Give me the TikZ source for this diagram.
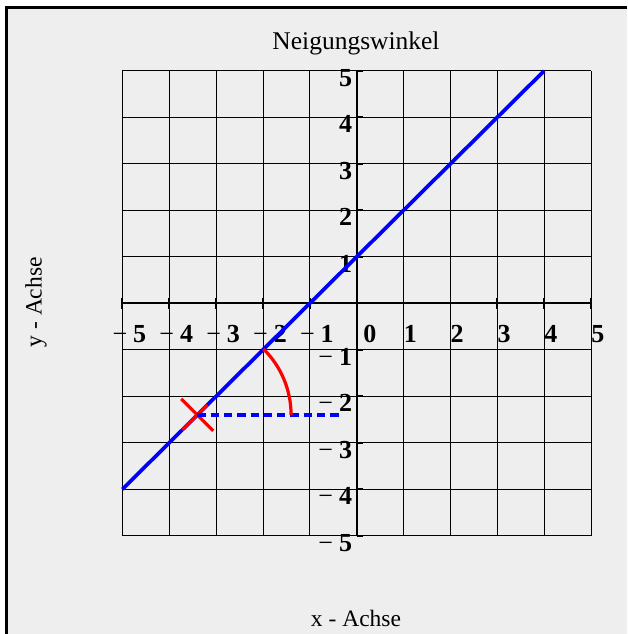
\documentclass[tikz,border=0pt]{standalone}
\usepackage{fontspec}
\setmainfont{Liberation Serif}
\definecolor{panelgray}{RGB}{238,238,238}
\newcommand{\negnum}[1]{{\mdseries\char"2212}\hspace{6pt}#1}
\begin{document}
\begin{tikzpicture}[x=1pt,y=1pt,
  gridline/.style={black, line width=0.9pt},
  axisline/.style={black, line width=2pt},
  tickmark/.style={black, line width=1.8pt},
  ticklab/.style={font=\fontsize{26}{26}\selectfont\bfseries, inner sep=0pt},
  titletext/.style={font=\fontsize{25.5}{26}\selectfont, inner sep=0pt},
  axistext/.style={font=\fontsize{23.5}{24}\selectfont, inner sep=0pt},
  plotline/.style={blue, line width=3.7pt},
  plotdash/.style={blue, line width=3.5pt, dash pattern=on 8.3pt off 5pt},
  anglearc/.style={red, line width=3.2pt},
  crossmark/.style={red, line width=3.2pt}]
\useasboundingbox (0,0) rectangle (627,634);
\fill[white] (0,0) rectangle (627,634);
\fill[panelgray] (6.5,0) rectangle (627,626);
\draw[line width=3pt, line join=miter] (6.5,0) -- (6.5,626) -- (627,626);

\node[titletext, anchor=base] (title) at (356,584.7) {Neigungswinkel};
\node[axistext, anchor=base] (xlab) at (356,7.3) {x - Achse};
\node[axistext, anchor=base, rotate=90] (ylab) at (41.7,331.7) {y - Achse};

\begin{scope}[shift={(356.7,330.7)}, x=46.87pt, y=46.5pt]
  \foreach \i in {-5,...,5} {
    \draw[gridline] (\i,-5) -- (\i,5);
    \draw[gridline] (-5,\i) -- (5,\i);
  }
  \draw[axisline] (-5,0) -- (5,0);
  \draw[axisline] (0,-5) -- (0,5);
  \foreach \i in {-5,...,5} {
    \draw[tickmark] (\i,0) ++(0,-5.5pt) -- ++(0,11pt);
    \draw[tickmark] (0,\i) -- ++(6.5pt,0);
  }
  % tick labels
  \foreach \i in {1,...,5} {
    \node[ticklab, anchor=north west, yshift=-21.7pt] (xl\i) at (\i,0) {\i};
    \node[ticklab, anchor=north west, yshift=-21.7pt, xshift=-10pt] (xln\i) at (-\i,0) {\negnum{\i}};
    \node[ticklab, anchor=north east, xshift=-4.5pt, yshift=2pt] (yl\i) at (0,\i) {\i};
    \node[ticklab, anchor=north east, xshift=-4.5pt, yshift=2pt] (yln\i) at (0,-\i) {\negnum{\i}};
  }
  \node[ticklab, anchor=north west, yshift=-21.7pt, xshift=6.5pt] (xl0) at (0,0) {0};

  % graph y = x + 1
  \coordinate (gstart) at (-5,-4);
  \coordinate (gend) at (4,5);
  \coordinate (P) at (-3.4,-2.4);
  \coordinate (Q) at (-0.36,-2.4);
  \draw[plotline] (gstart) -- (gend);
  \draw[crossmark] (P) ++(-16pt,16pt) -- ++(32pt,-32pt);
  \draw[crossmark] (P) ++(-15pt,-15pt) -- ++(25pt,25pt);
  \draw[plotdash] (P) -- (Q);
  \draw[anglearc] (-1.4,-2.4) arc[start angle=0, end angle=45, radius=2];
\end{scope}
\end{tikzpicture}
\end{document}
